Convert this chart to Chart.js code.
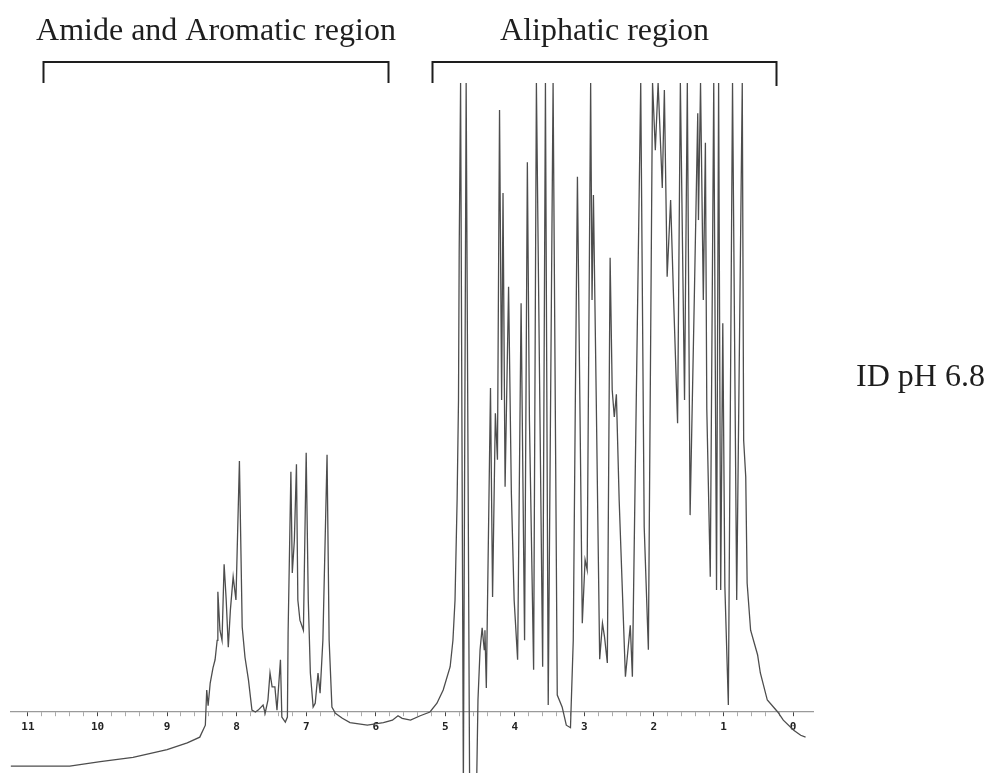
<!DOCTYPE html>
<html>
<head>
<meta charset="utf-8">
<title>1D 1H NMR spectrum, pH 6.8</title>
<script src="https://cdn.jsdelivr.net/npm/chart.js@4.4.1/dist/chart.umd.min.js"></script>
<style>
  html, body { margin: 0; padding: 0; background: #ffffff; }
  #wrap { position: relative; width: 997px; height: 773px; }
</style>
</head>
<body>
<div id="wrap"><canvas id="nmr"></canvas></div>
<script>
// Chemical shift (ppm) of each trace vertex, high field on the right
const shiftPpm = [
  11.25, 10.83, 10.40, 9.96, 9.49, 9.00, 8.71, 8.53, 8.45, 8.43, 8.41, 8.38, 8.34, 8.31, 8.28, 8.27,
  8.24, 8.21, 8.18, 8.15, 8.12, 8.09, 8.05, 8.01, 7.96, 7.92, 7.88, 7.83, 7.78, 7.73, 7.69, 7.62,
  7.59, 7.55, 7.52, 7.49, 7.45, 7.42, 7.37, 7.35, 7.30, 7.27, 7.26, 7.22, 7.20, 7.17, 7.14, 7.12,
  7.09, 7.04, 7.00, 6.97, 6.94, 6.90, 6.87, 6.83, 6.80, 6.76, 6.70, 6.67, 6.63, 6.58, 6.48, 6.37,
  6.12, 5.89, 5.76, 5.68, 5.62, 5.50, 5.36, 5.22, 5.12, 5.03, 4.93, 4.89, 4.86, 4.83, 4.81, 4.80,
  4.78, 4.74, 4.70, 4.65, 4.55, 4.53, 4.50, 4.47, 4.44, 4.43, 4.41, 4.35, 4.32, 4.28, 4.25, 4.22,
  4.19, 4.17, 4.14, 4.09, 4.05, 4.01, 3.96, 3.91, 3.86, 3.82, 3.79, 3.73, 3.69, 3.60, 3.56, 3.52,
  3.45, 3.39, 3.32, 3.26, 3.20, 3.16, 3.13, 3.10, 3.03, 2.99, 2.96, 2.91, 2.89, 2.87, 2.83, 2.78,
  2.74, 2.71, 2.67, 2.63, 2.60, 2.57, 2.54, 2.50, 2.41, 2.34, 2.31, 2.19, 2.14, 2.08, 2.02, 1.98,
  1.94, 1.88, 1.85, 1.81, 1.76, 1.72, 1.66, 1.62, 1.56, 1.52, 1.48, 1.42, 1.37, 1.36, 1.33, 1.29,
  1.26, 1.24, 1.19, 1.14, 1.10, 1.07, 1.04, 1.01, 0.98, 0.93, 0.87, 0.81, 0.73, 0.71, 0.68, 0.66,
  0.61, 0.51, 0.47, 0.37, 0.22, 0.14, -0.01, -0.11, -0.18
];

// Signal intensity (arbitrary units, 0 = baseline, 100 = plot ceiling)
const intensity = [
  -8.6, -8.6, -8.6, -7.9, -7.2, -6.0, -4.9, -4.0, -2.1, 3.5, 1.0, 4.6, 7.0, 8.3, 11.4, 19.1,
  13.0, 11.4, 23.5, 17.8, 10.3, 16.2, 21.5, 17.8, 39.9, 13.5, 8.7, 5.1, 0.3, 0.0, 0.3, 1.1,
  -0.2, 1.9, 6.2, 4.0, 4.0, 0.3, 8.3, -0.8, -1.6, -0.8, 12.6, 38.2, 22.1, 27.3, 39.4, 17.8,
  14.6, 13.0, 41.2, 17.8, 6.2, 0.8, 1.4, 6.2, 3.0, 11.4, 40.9, 11.4, 0.8, -0.2, -1.0, -1.7,
  -2.1, -1.7, -1.3, -0.6, -1.0, -1.3, -0.6, 0.0, 1.4, 3.5, 7.2, 11.4, 17.8, 33.7, 49.6, 73.4,
  100, -12, 100, -12, -12, 1.9, 9.9, 13.4, 9.9, 13.0, 3.8, 51.5, 18.3, 47.5, 40.1, 95.7,
  49.6, 82.5, 35.8, 67.6, 34.8, 17.8, 8.3, 65.0, 11.4, 87.4, 46.4, 6.7, 100, 7.2, 100, 1.1,
  100, 2.7, 0.8, -2.1, -2.5, 11.4, 49.6, 85.1, 14.1, 24.2, 22.6, 100, 65.5, 82.2, 50.2, 8.4,
  14.1, 11.9, 7.8, 72.2, 51.2, 46.9, 50.5, 33.7, 5.6, 13.8, 5.6, 100, 29.4, 9.9, 100, 89.3,
  100, 83.3, 98.9, 69.2, 81.4, 66.6, 45.9, 100, 49.6, 100, 31.3, 65.5, 95.2, 78.2, 100, 65.5,
  90.5, 48.2, 21.5, 100, 19.4, 100, 19.4, 61.8, 19.9, 1.1, 100, 17.8, 100, 43.2, 37.4, 20.5,
  13.0, 9.1, 6.2, 1.9, 0.0, -1.3, -2.9, -3.7, -4.0
];

// Labelled ppm ticks on the chemical-shift axis
const tickLabels = [11, 10, 9, 8, 7, 6, 5, 4, 3, 2, 1, 0];

// Spectral regions marked with brackets above the trace (ppm from, ppm to)
const regionNames = ['Amide and Aromatic region', 'Aliphatic region'];
const regionFrom = [10.78, 5.19];
const regionTo = [5.82, 0.25];

const sampleLabel = 'ID pH 6.8';

// axis ticks every 0.2 ppm, labels only at whole ppm
const tickValues = [];
for (let i = 0; i <= 55; i++) tickValues.push(Math.round(i * 2) / 10);

const points = shiftPpm.map((p, i) => ({ x: p, y: intensity[i] }));

const annotations = {
  id: 'regionsAndSample',
  afterDraw(chart) {
    const ctx = chart.ctx;
    const xs = chart.scales.x;
    ctx.save();
    ctx.strokeStyle = '#1e1e1e';
    ctx.fillStyle = '#1e1e1e';
    ctx.lineWidth = 2;
    ctx.font = '32px "Liberation Serif", "Times New Roman", serif';
    ctx.textAlign = 'center';
    ctx.textBaseline = 'alphabetic';
    const legDrop = [21, 24];
    regionNames.forEach((name, i) => {
      const x1 = Math.round(xs.getPixelForValue(regionFrom[i])) + 0.5;
      const x2 = Math.round(xs.getPixelForValue(regionTo[i])) + 0.5;
      const yb = 62;
      ctx.beginPath();
      ctx.moveTo(x1, yb + 21);
      ctx.lineTo(x1, yb);
      ctx.lineTo(x2, yb);
      ctx.lineTo(x2, yb + legDrop[i]);
      ctx.stroke();
      ctx.fillText(name, (x1 + x2) / 2, 40);
    });
    ctx.textAlign = 'left';
    ctx.fillText(sampleLabel, 856, 386);
    ctx.restore();
  }
};

new Chart(document.getElementById('nmr'), {
  type: 'scatter',
  data: {
    datasets: [{
      data: points,
      showLine: true,
      borderColor: '#4d4d4d',
      borderWidth: 1.3,
      pointRadius: 0,
      tension: 0
    }]
  },
  options: {
    responsive: true,
    maintainAspectRatio: false,
    animation: false,
    events: [],
    layout: { padding: { left: 10.6, right: 183.1, top: 83, bottom: 0 } },
    plugins: { legend: { display: false }, tooltip: { enabled: false } },
    scales: {
      x: {
        type: 'linear',
        reverse: true,
        min: -0.3,
        max: 11.25,
        position: { y: 0 },
        afterBuildTicks(scale) {
          scale.ticks = tickValues.map(v => ({ value: v }));
        },
        afterFit(scale) { scale.height = 0; },
        grid: {
          drawOnChartArea: false,
          drawTicks: true,
          tickLength: 4,
          color: ctx => (tickLabels.includes(ctx.tick && ctx.tick.value) ? '#444' : '#aaa'),
          lineWidth: 1
        },
        border: { display: true, color: '#9a9a9a', width: 1.2, dash: [3, 2] },
        ticks: {
          autoSkip: false,
          maxRotation: 0,
          padding: 5,
          color: '#222',
          font: { family: '"DejaVu Sans Mono", monospace', size: 11, weight: 'bold' },
          callback: v => (tickLabels.includes(Math.round(v * 10) / 10) ? String(Math.round(v)) : '')
        }
      },
      y: {
        type: 'linear',
        display: false,
        min: -9.7,
        max: 100
      }
    }
  },
  plugins: [annotations]
});
</script>
</body>
</html>
